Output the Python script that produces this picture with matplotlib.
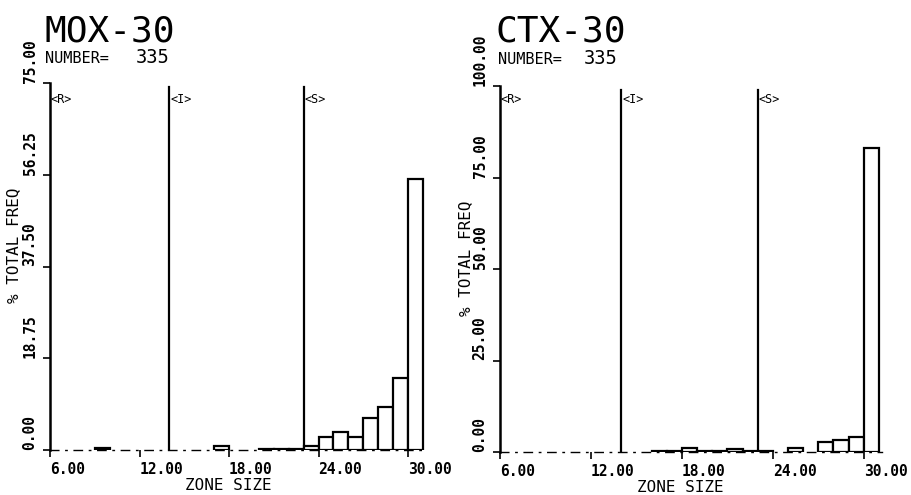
import matplotlib.pyplot as plt
import numpy as np
from matplotlib.transforms import ScaledTranslation, blended_transform_factory

W, H = 911, 495

# zone size bins, 1 unit wide, left edges 6..30
bin_left = np.arange(6, 31)
mox_freq = [0, 0, 0, 0.4, 0, 0, 0, 0, 0, 0, 0, 0.8, 0, 0, 0.3, 0.3, 0.3,
            0.8, 2.7, 3.7, 2.7, 6.5, 8.8, 14.7, 55.4]
ctx_freq = [0, 0, 0, 0, 0, 0, 0, 0, 0, 0, 0.2, 0.2, 1.1, 0.3, 0.3, 0.8, 0.3,
            0.3, 0, 1.1, 0, 2.7, 3.3, 4.1, 83.0]

x_ticks = [6, 12, 18, 24, 30]
mox_yticks = [0, 18.75, 37.5, 56.25, 75]
ctx_yticks = [0, 25, 50, 75, 100]

zone_labels = ["<R>", "<I>", "<S>"]
zone_bounds = [6, 14, 23]

MONO = "DejaVu Sans Mono"

fig = plt.figure(figsize=(W / 100, H / 100), dpi=100)


def px_axes(x0, y0, x1, y1):
    # pixel box (left, top, right, bottom) -> figure fraction rect
    return [x0 / W, 1 - y1 / H, (x1 - x0) / W, (y1 - y0) / H]


def fig_text(x, y, s, **kw):
    fig.text(x / W, 1 - y / H, s, **kw)


def draw_panel(ax, freq, yticks, zone_y):
    freq = np.array(freq)
    keep = freq > 0
    ax.bar(bin_left[keep], freq[keep], width=1, align="edge",
           facecolor="white", edgecolor="black", linewidth=1.6, zorder=3)

    ax.set_xlim(6, 31.2)
    ax.set_ylim(0, yticks[-1])

    for side in ["top", "right"]:
        ax.spines[side].set_visible(False)
    ax.spines["left"].set_linewidth(1.8)
    ax.spines["bottom"].set_linewidth(1.0)
    ax.spines["bottom"].set_linestyle((0, (6, 5, 1, 5)))

    for xb in zone_bounds[1:]:
        ax.axvline(xb, ymin=0, ymax=0.99, color="black", linewidth=1.6)
    tr = blended_transform_factory(ax.transData, ax.transAxes)
    for xb, lab in zip(zone_bounds, zone_labels):
        ax.text(xb + 0.05, zone_y, lab, transform=tr, family=MONO,
                fontsize=8.5, ha="left", va="center")

    ax.set_xticks(x_ticks)
    ax.set_xticklabels([f"{v:.2f}" for v in x_ticks], family=MONO,
                       fontsize=10.5, fontweight="bold")
    off = ScaledTranslation(-9 / 100, 0, fig.dpi_scale_trans)
    for lab in ax.get_xticklabels():
        lab.set_ha("left")
        lab.set_transform(lab.get_transform() + off)

    ax.set_yticks(yticks)
    ax.set_yticklabels([f"{v:.2f}" for v in yticks], family=MONO,
                       fontsize=10.5, fontweight="bold")
    for lab in ax.get_yticklabels():
        lab.set_rotation(90)
        lab.set_va("bottom")
        lab.set_ha("right")

    ax.tick_params(axis="both", direction="out", length=5, width=1.2, pad=4)
    ax.patch.set_alpha(0)


ax1 = fig.add_axes(px_axes(50, 83, 426, 450))
draw_panel(ax1, mox_freq, mox_yticks, 0.956)

ax2 = fig.add_axes(px_axes(500, 86, 882, 452))
draw_panel(ax2, ctx_freq, ctx_yticks, 0.962)

# titles
fig_text(44, 41, "MOX-30", family=MONO, fontsize=26, va="baseline")
fig_text(45, 63, "NUMBER=", family=MONO, fontsize=11, va="baseline")
fig_text(136, 63, "335", family=MONO, fontsize=13.5, va="baseline")

fig_text(496, 42, "CTX-30", family=MONO, fontsize=26, va="baseline")
fig_text(498, 64, "NUMBER=", family=MONO, fontsize=11, va="baseline")
fig_text(584, 64, "335", family=MONO, fontsize=13.5, va="baseline")

# axis titles
fig_text(14, 245, "% TOTAL FREQ", family=MONO, fontsize=11.5, rotation=90,
         ha="center", va="center")
fig_text(466, 258, "% TOTAL FREQ", family=MONO, fontsize=11.5, rotation=90,
         ha="center", va="center")
fig_text(228, 486, "ZONE SIZE", family=MONO, fontsize=11.5,
         ha="center", va="center")
fig_text(680, 487, "ZONE SIZE", family=MONO, fontsize=11.5,
         ha="center", va="center")

fig.savefig("out.png", dpi=100)
